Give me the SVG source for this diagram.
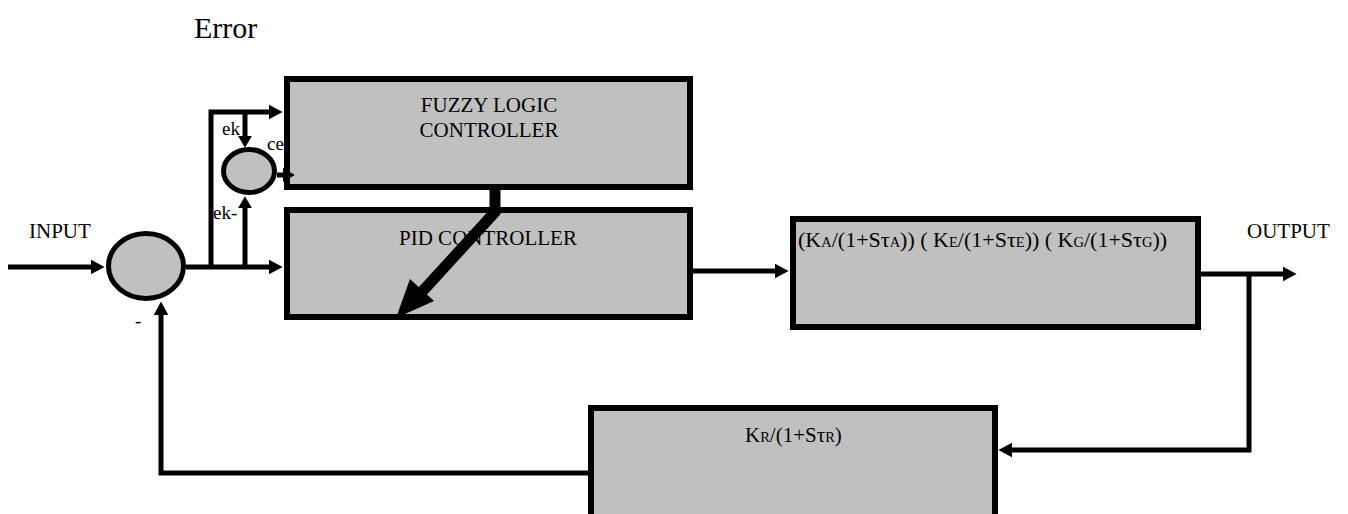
<svg xmlns="http://www.w3.org/2000/svg" width="1348" height="514" viewBox="0 0 1348 514">
<style>
.box{fill:#c0c0c0;stroke:#000;stroke-width:6}
.sum{fill:#c0c0c0;stroke:#000;stroke-width:5}
.ln{fill:none;stroke:#000;stroke-width:5;stroke-linejoin:miter}
.t{font-family:"Liberation Serif","Times New Roman",serif;fill:#000}
.s{font-size:14.5px}
</style>
<defs>
<marker id="arr" viewBox="0 0 10 10" refX="1" refY="5" markerWidth="14" markerHeight="15" markerUnits="userSpaceOnUse" orient="auto" preserveAspectRatio="none"><path d="M0,0 L10,5 L0,10 z"/></marker>
<marker id="sarr" viewBox="0 0 10 10" refX="1" refY="5" markerWidth="12" markerHeight="14" markerUnits="userSpaceOnUse" orient="auto" preserveAspectRatio="none"><path d="M0,0 L10,5 L0,10 z"/></marker>
</defs>
<rect width="1348" height="514" fill="#fff"/>
<text class="t" x="194" y="38" font-size="30">Error</text>
<text class="t" x="29" y="238" font-size="21">INPUT</text>
<text class="t" x="1247" y="238" font-size="21">OUTPUT</text>
<text class="t" x="222" y="135" font-size="19">ek</text>
<text class="t" x="267" y="150" font-size="19">ce</text>
<text class="t" x="213" y="219" font-size="19">ek-</text>
<text class="t" x="135" y="327" font-size="19">-</text>
<g id="fuzzy">
<rect class="box" x="287" y="79" width="403" height="108"/>
<text class="t" x="489" y="112" font-size="21" text-anchor="middle">FUZZY LOGIC</text>
<text class="t" x="489" y="137" font-size="21" text-anchor="middle">CONTROLLER</text>
</g>
<g id="pid">
<rect class="box" x="287" y="210" width="403" height="107"/>
<text class="t" x="488" y="245" font-size="21" text-anchor="middle">PID CONTROLLER</text>
</g>
<g id="plant">
<rect class="box" x="793" y="219" width="405" height="108"/>
<text class="t" x="798" y="247" font-size="22">(K<tspan class="s">A</tspan>/(1+Sτ<tspan class="s">A</tspan>)) ( K<tspan class="s">E</tspan>/(1+Sτ<tspan class="s">E</tspan>)) ( K<tspan class="s">G</tspan>/(1+Sτ<tspan class="s">G</tspan>))</text>
</g>
<g id="feedback">
<rect class="box" x="591" y="408" width="404" height="120"/>
<text class="t" x="745" y="442" font-size="21">K<tspan class="s">R</tspan>/(1+Sτ<tspan class="s">R</tspan>)</text>
</g>
<g id="sum-main">
<ellipse class="sum" cx="146" cy="266" rx="37.5" ry="32.5"/>
</g>
<g id="sum-ce">
<ellipse class="sum" cx="249" cy="171" rx="25.5" ry="21.5"/>
</g>
<g id="connectors">
<path class="ln" d="M8 267 H92" marker-end="url(#arr)"/>
<path class="ln" d="M186 267 H270" marker-end="url(#arr)"/>
<path class="ln" d="M211 267 V112 H270" marker-end="url(#arr)"/>
<path class="ln" d="M245 112 V137" marker-end="url(#sarr)"/>
<path class="ln" d="M245 267 V207" marker-end="url(#sarr)"/>
<path class="ln" d="M277 175 H284" marker-end="url(#sarr)"/>
<path class="ln" d="M693 271 H776" marker-end="url(#arr)"/>
<path class="ln" d="M1201 274 H1284" marker-end="url(#arr)"/>
<path class="ln" d="M1249 274 V450 H1011" marker-end="url(#arr)"/>
<path class="ln" d="M588 473 H161 V314" marker-end="url(#arr)"/>
<path d="M495 189 V212 L420 294" fill="none" stroke="#000" stroke-width="11" stroke-linejoin="miter"/>
<polygon points="396,318 410,279 434,301" fill="#000"/>
</g>
</svg>
